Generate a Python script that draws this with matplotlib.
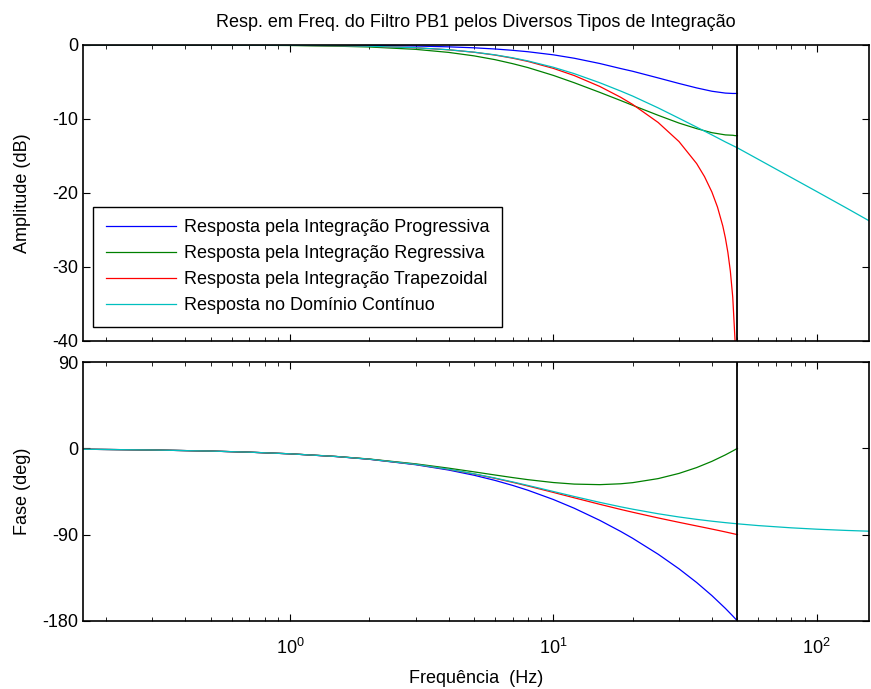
import matplotlib
matplotlib.use('Agg')
import matplotlib.pyplot as plt
from matplotlib.ticker import LogLocator, NullFormatter

plt.rcParams['font.family'] = ['Liberation Sans', 'DejaVu Sans']
plt.rcParams['mathtext.default'] = 'regular'
plt.rcParams['axes.unicode_minus'] = False

# frequencias (Hz) das respostas discretas (T = 0.01 s, Nyquist em 50 Hz)
freq_disc = [0.164, 0.3, 0.5, 0.7, 1, 1.5, 2, 3, 4, 5, 6, 7, 8, 10, 12, 15, 18, 20,
             25, 30, 35, 40, 45, 48, 49, 49.5, 49.9, 50]

# integracao progressiva (Euler forward)
amp_prog = [0, -0.002, -0.004, -0.008, -0.016, -0.036, -0.064, -0.14, -0.25, -0.38, -0.54,
            -0.72, -0.91, -1.33, -1.79, -2.50, -3.18, -3.55, -4.45, -5.2, -5.8, -6.25, -6.5,
            -6.55, -6.55, -6.55, -6.55, -6.55]
fase_prog = [-0.94, -1.72, -2.87, -4.02, -5.73, -8.58, -11.42, -17.06, -22.62, -28.07, -33.42,
             -38.62, -43.67, -53.35, -62.44, -75.05, -86.58, -93.77, -110.39, -125.60, -139.86,
             -153.53, -166.85, -174.75, -177.38, -178.7, -179.7, -180]

# integracao regressiva (Euler backward)
amp_reg = [-0.001, -0.006, -0.017, -0.034, -0.07, -0.16, -0.27, -0.59, -1.00, -1.47, -1.98,
           -2.52, -3.05, -4.11, -5.10, -6.40, -7.50, -8.15, -9.5, -10.55, -11.3, -11.85, -12.15,
           -12.2, -12.25, -12.25, -12.25, -12.25]
fase_reg = [-0.93, -1.71, -2.85, -3.99, -5.69, -8.46, -11.14, -16.18, -20.65, -24.53, -27.79,
            -30.48, -32.65, -35.66, -37.28, -37.86, -36.96, -35.79, -31.56, -26.14, -20.06,
            -13.56, -6.83, -2.74, -1.37, -0.68, -0.14, 0]

# integracao trapezoidal (Tustin), mais pontos perto de Nyquist
freq_trap = [0.164, 0.3, 0.5, 0.7, 1, 1.5, 2, 3, 4, 5, 6, 7, 8, 10, 12, 15, 18, 20,
             25, 30, 35, 37.5, 40, 42, 44, 45, 46, 47, 48, 49, 49.5, 49.9, 50]
amp_trap = [0, -0.004, -0.011, -0.021, -0.043, -0.097, -0.17, -0.38, -0.65, -0.98, -1.36,
            -1.78, -2.22, -3.16, -4.13, -5.60, -7.06, -8.03, -10.47, -13.05, -16.02, -17.79,
            -19.87, -21.9, -24.46, -26.07, -28.03, -30.55, -34.08, -40.1, -46.1, -60.0, -100.0]
fase_trap = [-0.94, -1.72, -2.86, -4.0, -5.71, -8.55, -11.32, -16.75, -21.90, -26.75, -31.27,
             -35.43, -39.26, -45.96, -51.57, -58.34, -63.67, -66.61, -72.56, -77.14, -80.91,
             -82.58, -84.17, -85.39, -86.57, -87.15, -87.73, -88.30, -88.87, -89.43, -89.72,
             -89.94, -90.0]

# filtro continuo
freq_cont = [0.164, 0.3, 0.5, 0.7, 1, 1.5, 2, 3, 4, 5, 6, 7, 8, 10, 12, 15, 18, 20, 25, 30,
             35, 40, 45, 50, 60, 80, 100, 130, 158]
amp_cont = [0, -0.004, -0.011, -0.021, -0.043, -0.096, -0.17, -0.37, -0.64, -0.97, -1.33,
            -1.73, -2.15, -3.01, -3.87, -5.10, -6.22, -6.9, -8.5, -9.9, -11.1, -12.15, -13.1,
            -13.9, -15.45, -17.9, -19.8, -22.05, -23.75]
fase_cont = [-0.94, -1.72, -2.86, -4.0, -5.71, -8.53, -11.31, -16.70, -21.80, -26.57, -30.96,
             -34.99, -38.66, -45.0, -50.19, -56.31, -60.95, -63.43, -68.20, -71.57, -74.05,
             -75.96, -77.47, -78.69, -80.54, -82.87, -84.29, -85.60, -86.38]

legendas = ['Resposta pela Integração Progressiva',
            'Resposta pela Integração Regressiva',
            'Resposta pela Integração Trapezoidal',
            'Resposta no Domínio Contínuo']
cores = ['#0000ff', '#008000', '#ff0000', '#00bfbf']
f_nyq = 50

fig = plt.figure(figsize=(8.71, 6.89), dpi=100)
ax1 = fig.add_axes([0.0953, 0.5051, 0.9024, 0.4296])
ax2 = fig.add_axes([0.0953, 0.0987, 0.9024, 0.3759])

series = [(freq_disc, amp_prog, fase_prog), (freq_disc, amp_reg, fase_reg),
          (freq_trap, amp_trap, fase_trap), (freq_cont, amp_cont, fase_cont)]

for (f, a, p), cor, nome in zip(series, cores, legendas):
    ax1.semilogx(f, a, color=cor, lw=0.9, label=nome)
    ax2.semilogx(f, p, color=cor, lw=0.9)

for ax in (ax1, ax2):
    ax.axvline(f_nyq, color='k', lw=1.3)
    ax.set_xlim(0.1636, 158)
    ax.xaxis.set_major_locator(LogLocator(base=10))
    ax.xaxis.set_minor_locator(LogLocator(base=10, subs=range(2, 10)))
    ax.xaxis.set_minor_formatter(NullFormatter())
    ax.tick_params(which='both', direction='in', top=True, right=True, labelsize=13)
    ax.tick_params(which='major', length=5)
    ax.tick_params(which='minor', length=3)
    ax.tick_params(axis='x', pad=12)
    for s in ax.spines.values():
        s.set_linewidth(1.2)

ax1.set_ylim(-40, 0)
ax1.set_yticks([0, -10, -20, -30, -40])
ax1.tick_params(labelbottom=False)
ax1.set_ylabel('Amplitude (dB)', fontsize=13)
ax1.set_title('Resp. em Freq. do Filtro PB1 pelos Diversos Tipos de Integração', fontsize=13, pad=13)

ax2.set_ylim(-180, 90)
ax2.set_yticks([90, 0, -90, -180])
ax2.set_ylabel('Fase (deg)', fontsize=13)
ax2.set_xlabel('Frequência  (Hz)', fontsize=13, labelpad=9)

leg = ax1.legend(loc='lower left', bbox_to_anchor=(0.0127, 0.047), borderaxespad=0,
                 fontsize=13, frameon=True, fancybox=False, framealpha=1,
                 handlelength=3.9, handletextpad=0.45, borderpad=0.7, labelspacing=0.5)
leg.get_frame().set_edgecolor('k')
leg.get_frame().set_linewidth(1.0)

ax1.yaxis.set_label_coords(-0.066, 0.5)
ax2.yaxis.set_label_coords(-0.066, 0.5)

fig.savefig('out.png', dpi=100)
